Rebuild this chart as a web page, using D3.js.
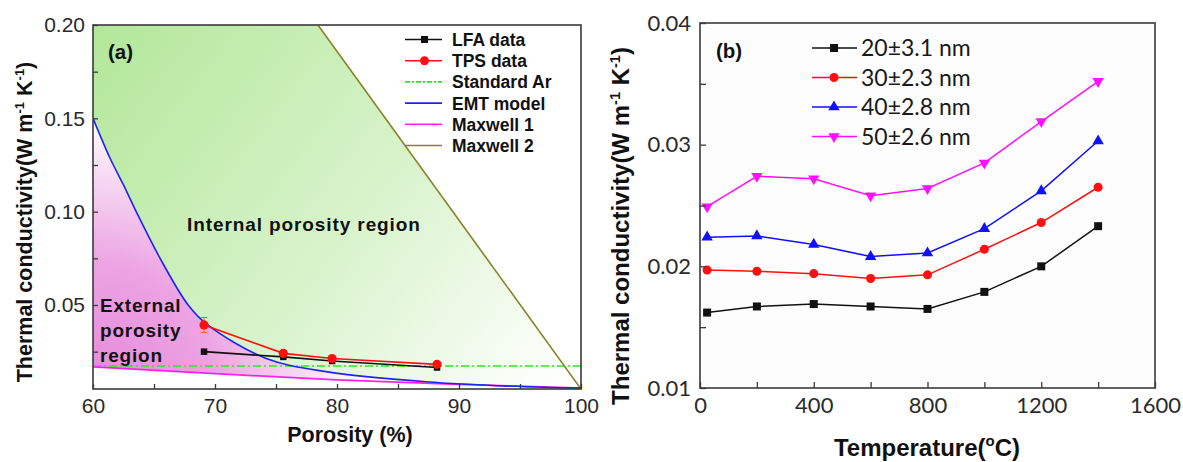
<!DOCTYPE html>
<html><head><meta charset="utf-8">
<script src="https://cdn.jsdelivr.net/npm/d3@7"></script>
<style>body{margin:0;background:#fff} svg{display:block}</style>
</head><body>
<svg id="c" width="1183" height="462"></svg>
<script>
// ---------- Panel (a) data ----------
const porosity = [69.1, 75.6, 79.6, 88.2];
const lfaK = [0.0250, 0.0222, 0.0200, 0.0165];
const tpsK = [0.0393, 0.0241, 0.0213, 0.0182];
const tpsErr = [0.0040, 0.0010, 0.0010, 0.0010];
const standardAr = 0.0173;
const emtX = [60, 61.4, 62.5, 63.55, 65.5, 67.8, 69.4, 74.2, 79.1, 87.3, 95.5, 100];
const emtK = [0.150, 0.1286, 0.1143, 0.0999, 0.075, 0.050, 0.0393, 0.0214, 0.0143, 0.0089, 0.0062, 0.0055];
const maxwell1X = [60, 70, 80, 90, 100];
const maxwell1K = [0.0169, 0.0132, 0.0099, 0.0075, 0.0055];
const maxwell2X = [78.44, 100];
const maxwell2K = [0.200, 0.005];
const xTicksA = [60, 70, 80, 90, 100];
const xMinorA = [65, 75, 85, 95];
const yTicksA = [0.05, 0.10, 0.15, 0.20];
const yMinorA = [0.025, 0.075, 0.125, 0.175];
const legendA = ["LFA data", "TPS data", "Standard Ar", "EMT model", "Maxwell 1", "Maxwell 2"];

// ---------- Panel (b) data ----------
const temps = [25, 200, 400, 600, 800, 1000, 1200, 1400];
const s20 = [0.0162, 0.0167, 0.0169, 0.0167, 0.0165, 0.0179, 0.0200, 0.0233];
const s30 = [0.0197, 0.0196, 0.0194, 0.0190, 0.0193, 0.0214, 0.0236, 0.0265];
const s40 = [0.0224, 0.0225, 0.0218, 0.0208, 0.0211, 0.0231, 0.0262, 0.0303];
const s50 = [0.0249, 0.0274, 0.0272, 0.0258, 0.0264, 0.0285, 0.0319, 0.0352];
const sizeLabels = ["20\u00B13.1 nm", "30\u00B12.3 nm", "40\u00B12.8 nm", "50\u00B12.6 nm"];
const xTicksB = [0, 400, 800, 1200, 1600];
const xMinorB = [200, 600, 1000, 1400];
const yTicksB = [0.01, 0.02, 0.03, 0.04];
const yMinorB = [0.015, 0.025, 0.035];

const svg = d3.select("#c");
const defs = svg.append("defs");
const ARIAL = "'Liberation Sans', Arial, sans-serif";
const LATO = "Lato, 'Open Sans', sans-serif";

// ===================== Panel (a) =====================
const A = {l: 93, r: 581, t: 25, b: 389};
const xA = d3.scaleLinear().domain([60, 100]).range([A.l, A.r]);
const yA = d3.scaleLinear().domain([0.005, 0.2]).range([A.b, A.t]);

defs.append("clipPath").attr("id", "clipA").append("rect")
  .attr("x", A.l).attr("y", A.t).attr("width", A.r - A.l).attr("height", A.b - A.t);

const gg = defs.append("linearGradient").attr("id", "greenGrad")
  .attr("gradientUnits", "userSpaceOnUse")
  .attr("x1", A.l).attr("y1", A.t).attr("x2", 560).attr("y2", A.b);
gg.append("stop").attr("offset", 0).attr("stop-color", "#b2e799");
gg.append("stop").attr("offset", 0.55).attr("stop-color", "#d8f3cb");
gg.append("stop").attr("offset", 1).attr("stop-color", "#ffffff");

const pg = defs.append("radialGradient").attr("id", "pinkGrad")
  .attr("gradientUnits", "userSpaceOnUse")
  .attr("cx", A.l).attr("cy", 385).attr("r", 300);
pg.append("stop").attr("offset", 0).attr("stop-color", "#e68ad9");
pg.append("stop").attr("offset", 0.4).attr("stop-color", "#eca3e3");
pg.append("stop").attr("offset", 0.9).attr("stop-color", "#ffffff");
pg.append("stop").attr("offset", 1).attr("stop-color", "#ffffff");

const emtPts = emtX.map((x, i) => [x, emtK[i]]);
const m1Pts = maxwell1X.map((x, i) => [x, maxwell1K[i]]);
const m2Pts = maxwell2X.map((x, i) => [x, maxwell2K[i]]);

const curveLine = d3.line().x(d => xA(d[0])).y(d => yA(d[1])).curve(d3.curveCatmullRom.alpha(0.5));
const straight = d3.line().x(d => xA(d[0])).y(d => yA(d[1]));

const gA = svg.append("g").attr("clip-path", "url(#clipA)");

// green region: top-left corner -> Maxwell 2 -> back along EMT
const greenPath = straight([[60, 0.2]].concat(m2Pts)) + "L" +
  curveLine(emtPts.slice().reverse()).slice(1) + "Z";
gA.append("path").attr("d", greenPath).attr("fill", "url(#greenGrad)");

// pink region: EMT -> back along Maxwell 1
const pinkPath = curveLine(emtPts) + "L" + curveLine(m1Pts.slice().reverse()).slice(1) + "Z";
gA.append("path").attr("d", pinkPath).attr("fill", "url(#pinkGrad)");

// Standard Ar
gA.append("line").attr("x1", xA(60)).attr("x2", xA(100))
  .attr("y1", yA(standardAr)).attr("y2", yA(standardAr))
  .attr("stroke", "#22ee22").attr("stroke-width", 1.6).attr("stroke-dasharray", "8,3,2,3");
// Maxwell 1
gA.append("path").attr("d", curveLine(m1Pts)).attr("fill", "none")
  .attr("stroke", "#ff22ee").attr("stroke-width", 1.8);
// Maxwell 2
gA.append("path").attr("d", straight(m2Pts)).attr("fill", "none")
  .attr("stroke", "#878228").attr("stroke-width", 1.6);
// EMT
gA.append("path").attr("d", curveLine(emtPts)).attr("fill", "none")
  .attr("stroke", "#2222ee").attr("stroke-width", 1.6);

// LFA data
const lfaPts = porosity.map((x, i) => [x, lfaK[i]]);
const tpsPts = porosity.map((x, i) => [x, tpsK[i]]);
gA.append("path").attr("d", straight(lfaPts)).attr("fill", "none")
  .attr("stroke", "#111").attr("stroke-width", 1.6);
gA.selectAll(".lfa").data(lfaPts).enter().append("path")
  .attr("transform", d => `translate(${xA(d[0])},${yA(d[1])})`)
  .attr("d", d3.symbol().type(d3.symbolSquare).size(42)).attr("fill", "#111");
// TPS data
gA.append("path").attr("d", straight(tpsPts)).attr("fill", "none")
  .attr("stroke", "#ff1010").attr("stroke-width", 1.6);
gA.selectAll(".err").data(tpsPts).enter().append("line")
  .attr("x1", d => xA(d[0])).attr("x2", d => xA(d[0]))
  .attr("y1", (d, i) => yA(d[1] + tpsErr[i])).attr("y2", (d, i) => yA(d[1] - tpsErr[i]))
  .attr("stroke", "#ff5050").attr("stroke-width", 1);
gA.selectAll(".errcap").data(tpsPts).enter().append("path")
  .attr("d", (d, i) => `M${xA(d[0]) - 3},${yA(d[1] + tpsErr[i])}h6M${xA(d[0]) - 3},${yA(d[1] - tpsErr[i])}h6`)
  .attr("stroke", "#ff5050").attr("stroke-width", 1);
gA.selectAll(".tps").data(tpsPts).enter().append("circle")
  .attr("cx", d => xA(d[0])).attr("cy", d => yA(d[1])).attr("r", 4.6).attr("fill", "#ff1010");

// frame
svg.append("rect").attr("x", A.l).attr("y", A.t).attr("width", A.r - A.l).attr("height", A.b - A.t)
  .attr("fill", "none").attr("stroke", "#3a3a3a").attr("stroke-width", 1.6);

function styleAxis(g, font, size, color) {
  g.select(".domain").remove();
  g.attr("font-family", font).attr("font-size", size).style("color", color);
  g.selectAll("line").attr("stroke", "#3a3a3a").attr("stroke-width", 1.3);
}
// axes A
styleAxis(svg.append("g").attr("transform", `translate(0,${A.b})`)
  .call(d3.axisBottom(xA).tickValues(xTicksA).tickFormat(d3.format("d")).tickSize(-5).tickPadding(9)),
  ARIAL, 21, "#2a2a2a");
styleAxis(svg.append("g").attr("transform", `translate(0,${A.b})`)
  .call(d3.axisBottom(xA).tickValues(xMinorA).tickFormat("").tickSize(-5)), ARIAL, 21, "#2a2a2a");
styleAxis(svg.append("g").attr("transform", `translate(${A.l},0)`)
  .call(d3.axisLeft(yA).tickValues(yTicksA).tickFormat(d3.format(".2f")).tickSize(-5).tickPadding(8)),
  ARIAL, 21, "#2a2a2a");
styleAxis(svg.append("g").attr("transform", `translate(${A.l},0)`)
  .call(d3.axisLeft(yA).tickValues(yMinorA).tickFormat("").tickSize(-5)), ARIAL, 21, "#2a2a2a");

// axis titles A
svg.append("text").attr("x", 350).attr("y", 442).attr("text-anchor", "middle")
  .attr("font-family", ARIAL).attr("font-weight", "bold").attr("font-size", 21.5).attr("fill", "#111")
  .text("Porosity (%)");
const ytA = svg.append("text").attr("transform", "translate(32,222) rotate(-90)")
  .attr("text-anchor", "middle").attr("font-family", ARIAL).attr("font-weight", "bold")
  .attr("font-size", 21.5).attr("fill", "#111");
ytA.append("tspan").text("Thermal conductivity(W m");
ytA.append("tspan").attr("font-size", 13).attr("dy", -8).text("-1");
ytA.append("tspan").attr("dy", 8).text(" K");
ytA.append("tspan").attr("font-size", 13).attr("dy", -8).text("-1");
ytA.append("tspan").attr("dy", 8).text(")");

// panel texts A
svg.append("text").attr("x", 108).attr("y", 59).attr("font-family", ARIAL).attr("font-weight", "bold")
  .attr("font-size", 20.5).attr("fill", "#111").text("(a)");
svg.append("text").attr("x", 187).attr("y", 231).attr("font-family", ARIAL).attr("font-weight", "bold")
  .attr("font-size", 19).attr("letter-spacing", 0.9).attr("fill", "#111").text("Internal porosity region");
["External", "porosity", "region"].forEach((t, i) => {
  svg.append("text").attr("x", 100).attr("y", 312 + i * 25).attr("font-family", ARIAL)
    .attr("font-weight", "bold").attr("font-size", 19).attr("letter-spacing", 0.8)
    .attr("fill", "#111").text(t);
});

// legend A
const legStyles = [
  {c: "#111", dash: null, mark: "square"},
  {c: "#ff1010", dash: null, mark: "circle"},
  {c: "#22ee22", dash: "5,2,2,2", mark: null},
  {c: "#2222ee", dash: null, mark: null},
  {c: "#ff22ee", dash: null, mark: null},
  {c: "#878228", dash: null, mark: null}
];
legendA.forEach((name, i) => {
  const y = 39.5 + i * 21.2;
  const s = legStyles[i];
  svg.append("line").attr("x1", 405).attr("x2", 442).attr("y1", y).attr("y2", y)
    .attr("stroke", s.c).attr("stroke-width", 1.6).attr("stroke-dasharray", s.dash);
  if (s.mark === "square") svg.append("rect").attr("x", 421).attr("y", y - 3.5).attr("width", 7).attr("height", 7).attr("fill", s.c);
  if (s.mark === "circle") svg.append("circle").attr("cx", 424.5).attr("cy", y).attr("r", 4.5).attr("fill", s.c);
  svg.append("text").attr("x", 452).attr("y", y + 6.5).attr("font-family", ARIAL).attr("font-weight", "bold")
    .attr("font-size", 17.5).attr("fill", "#111").text(name);
});

// ===================== Panel (b) =====================
const B = {l: 700, r: 1155, t: 23, b: 388};
const xB = d3.scaleLinear().domain([0, 1600]).range([B.l, B.r]);
const yB = d3.scaleLinear().domain([0.01, 0.04]).range([B.b, B.t]);

svg.append("rect").attr("x", B.l).attr("y", B.t).attr("width", B.r - B.l).attr("height", B.b - B.t)
  .attr("fill", "#fdfdfd").attr("stroke", "#3a3a3a").attr("stroke-width", 1.6);

const seriesB = [
  {vals: s20, color: "#111111", sym: d3.symbolSquare, size: 64, rot: 0},
  {vals: s30, color: "#ff1010", sym: d3.symbolCircle, size: 64, rot: 0},
  {vals: s40, color: "#1010ff", sym: d3.symbolTriangle, size: 56, rot: 0},
  {vals: s50, color: "#ff10ff", sym: d3.symbolTriangle, size: 56, rot: 180}
];
const lineB = d3.line().x(d => xB(d[0])).y(d => yB(d[1]));
seriesB.forEach(s => {
  const pts = temps.map((t, i) => [t, s.vals[i]]);
  svg.append("path").attr("d", lineB(pts)).attr("fill", "none").attr("stroke", s.color).attr("stroke-width", 1.5);
  svg.append("g").selectAll("path").data(pts).enter().append("path")
    .attr("transform", d => `translate(${xB(d[0])},${yB(d[1])}) rotate(${s.rot})`)
    .attr("d", d3.symbol().type(s.sym).size(s.size)).attr("fill", s.color);
});

styleAxis(svg.append("g").attr("transform", `translate(0,${B.b})`)
  .call(d3.axisBottom(xB).tickValues(xTicksB).tickFormat(d3.format("d")).tickSize(-6).tickPadding(9)),
  LATO, 22, "#2a2a2a");
styleAxis(svg.append("g").attr("transform", `translate(0,${B.b})`)
  .call(d3.axisBottom(xB).tickValues(xMinorB).tickFormat("").tickSize(-6)), LATO, 22, "#2a2a2a");
styleAxis(svg.append("g").attr("transform", `translate(${B.l},0)`)
  .call(d3.axisLeft(yB).tickValues(yTicksB).tickFormat(d3.format(".2f")).tickSize(-6).tickPadding(9)),
  LATO, 22, "#2a2a2a");
styleAxis(svg.append("g").attr("transform", `translate(${B.l},0)`)
  .call(d3.axisLeft(yB).tickValues(yMinorB).tickFormat("").tickSize(-6)), LATO, 22, "#2a2a2a");

// axis titles B
const xtB = svg.append("text").attr("x", 927).attr("y", 456).attr("text-anchor", "middle")
  .attr("font-family", ARIAL).attr("font-weight", "bold").attr("font-size", 24).attr("fill", "#111");
xtB.append("tspan").text("Temperature(");
xtB.append("tspan").attr("font-size", 15).attr("dy", -10).text("o");
xtB.append("tspan").attr("dy", 10).text("C)");
const ytB = svg.append("text").attr("transform", "translate(629,226) rotate(-90)")
  .attr("text-anchor", "middle").attr("font-family", ARIAL).attr("font-weight", "bold")
  .attr("font-size", 24).attr("fill", "#111");
ytB.append("tspan").text("Thermal conductivity(W m");
ytB.append("tspan").attr("font-size", 14.5).attr("dy", -9).text("-1");
ytB.append("tspan").attr("dy", 9).text(" K");
ytB.append("tspan").attr("font-size", 14.5).attr("dy", -9).text("-1");
ytB.append("tspan").attr("dy", 9).text(")");

svg.append("text").attr("x", 716).attr("y", 58).attr("font-family", ARIAL).attr("font-weight", "bold")
  .attr("font-size", 20.5).attr("fill", "#111").text("(b)");

// legend B
sizeLabels.forEach((name, i) => {
  const y = 48 + i * 29.5;
  const s = seriesB[i];
  svg.append("line").attr("x1", 812).attr("x2", 857).attr("y1", y).attr("y2", y)
    .attr("stroke", s.color).attr("stroke-width", 1.5);
  svg.append("path").attr("transform", `translate(834,${y}) rotate(${s.rot})`)
    .attr("d", d3.symbol().type(s.sym).size(s.size)).attr("fill", s.color);
  svg.append("text").attr("x", 861).attr("y", y + 8).attr("font-family", LATO)
    .attr("font-size", 23).attr("fill", "#1a1a1a").text(name);
});
</script>
</body></html>
